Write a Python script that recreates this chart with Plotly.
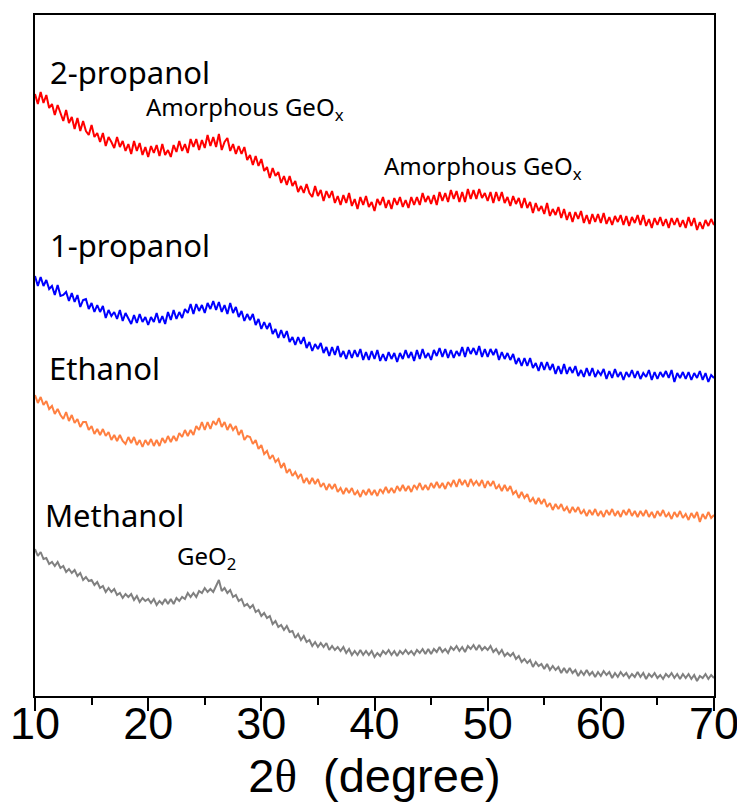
import plotly.graph_objects as go

# 2-theta sampling (degrees), 0.25 degree steps from 10 to 70
two_theta = [10 + 0.25 * i for i in range(241)]

# Intensities (arbitrary units, offset-stacked as in the figure), 4 values per degree
propanol2 = [
    602,592,604,593, 601,588,592,581, 591,582,575,586, 573,579,567,578, 565,575,565,561,
    571,559,563,554, 563,550,559,554, 548,559,549,555, 545,552,542,555, 545,553,541,549,
    539,550,543,551, 540,552,541,546, 539,551,544,555, 545,552,543,557, 549,557,546,556,
    548,561,550,559, 549,562,546,554, 558,545,552,542, 550,542,549,536, 541,531,540,530,
    537,525,529,518, 528,520,524,513, 520,511,520,510, 515,504,510,503, 512,503,499,510,
    500,506,495,505, 498,505,493,500, 491,501,493,503, 490,497,487,499, 491,500,489,494,
    485,497,491,499, 488,496,487,498, 491,499,489,496, 488,499,491,499, 491,503,494,500,
    492,501,491,504, 495,503,494,506, 497,505,494,504, 494,507,497,506, 497,507,498,503,
    495,504,493,504, 495,504,493,499, 490,500,492,498, 488,498,488,494, 483,493,485,490,
    482,493,480,487, 481,489,478,487, 476,484,474,484, 477,485,473,481, 472,482,474,482,
    473,483,472,479, 471,480,474,481, 471,480,470,479, 473,481,471,481, 470,477,468,478,
    471,479,470,477, 468,478,471,478, 469,476,468,479, 470,478,466,474, 467,476,470,477,
    471]

propanol1 = [
    420,410,419,410, 416,407,410,401, 411,400,401,404, 395,403,394,401, 389,396,397,387,
    393,384,391,384, 390,378,386,380, 384,377,386,375, 383,377,372,381, 373,382,374,379,
    371,379,374,383, 373,380,372,384, 376,386,377,384, 378,387,383,392, 382,392,385,391,
    383,393,387,395, 386,394,384,391, 382,393,383,389, 379,385,375,382, 376,382,371,377,
    367,374,367,373, 362,367,358,366, 358,365,354,359, 351,359,352,359, 348,354,345,352,
    347,353,343,349, 340,349,341,350, 339,345,337,346, 338,346,339,347, 336,344,336,345,
    337,346,335,342, 335,344,337,343, 334,343,337,346, 338,344,335,346, 337,347,338,343,
    336,346,340,348, 339,347,338,346, 338,345,340,349, 339,349,342,348, 341,350,339,347,
    339,347,341,347, 336,344,337,343, 336,342,332,338, 330,338,330,338, 328,333,325,334,
    326,334,326,332, 322,330,322,332, 322,329,323,330, 320,326,319,328, 320,328,319,325,
    321,327,317,325, 318,327,319,324, 316,324,319,326, 318,325,317,323, 319,326,316,324,
    317,324,319,325, 318,326,314,323, 318,324,317,324, 316,323,318,325, 316,323,314,321,
    318]

ethanol = [
    301,293,299,291, 295,287,290,282, 287,281,277,284, 275,281,273,277, 269,274,274,266,
    270,262,267,261, 267,260,264,256, 261,255,261,255, 252,259,253,259, 251,256,249,256,
    251,257,250,256, 250,258,253,260, 254,260,255,263, 259,266,260,266, 261,270,266,274,
    266,274,267,275, 271,278,269,274, 266,272,266,270, 261,266,256,260, 259,252,256,247,
    251,242,245,237, 241,234,237,228, 233,223,227,220, 224,218,222,213, 218,212,218,212,
    217,209,213,206, 212,207,212,204, 208,202,208,203, 208,201,205,199, 206,201,207,201,
    206,200,207,203, 209,203,208,203, 210,205,211,205, 210,204,211,207, 213,206,211,206,
    213,208,214,208, 213,207,214,210, 216,209,217,211, 216,209,217,211, 215,210,216,208,
    215,210,215,207, 211,205,211,205, 210,202,205,198, 204,198,202,194, 198,192,198,192,
    197,189,193,186, 192,187,192,185, 189,183,189,184, 189,182,186,180, 186,181,187,180,
    185,179,186,181, 187,180,185,179, 186,181,187,180, 185,179,185,180, 186,179,184,178,
    185,180,186,179, 183,177,184,179, 185,178,182,176, 183,178,184,174, 182,177,184,178,
    181]

methanol = [
    147,140,144,137, 138,132,134,130, 134,128,130,124, 127,123,126,120, 123,116,119,115,
    116,111,114,108, 110,104,108,104, 107,101,103,98, 102,99,102,96, 100,94,98,95,
    97,93,97,91, 95,92,97,92, 97,92,98,95, 99,97,103,99, 103,99,105,103,
    108,104,107,104, 110,116,105,108, 103,106,99,101, 95,97,90,92, 88,91,84,86,
    80,83,78,80, 72,75,69,71, 66,70,64,65, 58,62,56,60, 54,56,50,54,
    49,53,49,53, 46,50,46,49, 45,49,43,47, 41,45,41,46, 41,45,41,45,
    39,43,40,45, 42,46,41,45, 40,45,42,46, 42,45,41,46, 43,47,42,47,
    42,47,44,49, 44,47,43,49, 46,50,45,49, 44,50,47,51, 46,51,46,49,
    46,50,44,47, 42,46,40,43, 40,43,37,40, 34,37,33,36, 29,34,30,32,
    27,32,26,30, 26,29,23,28, 23,28,23,26, 20,25,21,26, 21,24,19,24,
    20,25,21,24, 18,23,19,24, 20,23,18,22, 19,24,19,23, 17,22,19,23,
    18,21,17,22, 19,23,18,22, 17,22,18,22, 17,21,15,20, 18,22,17,21,
    18]

series_names = ["2-propanol", "1-propanol", "Ethanol", "Methanol"]
series_values = [propanol2, propanol1, ethanol, methanol]
series_colors = ["#FF0000", "#0000FF", "#FF7F40", "#808080"]

# Sample labels: (text, x in degrees, y in intensity units)
sample_labels = [("2-propanol", 11.15, 624),
                 ("1-propanol", 11.15, 451),
                 ("Ethanol", 11.05, 328),
                 ("Methanol", 10.7, 181)]

# Phase annotations
phase_labels = [("Amorphous GeO<sub>x</sub>", 19.6, 588),
                ("Amorphous GeO<sub>x</sub>", 40.65, 529),
                ("GeO<sub>2</sub>", 22.35, 139)]

x_ticks = [10, 20, 30, 40, 50, 60, 70]

fig = go.Figure()
for name, vals, col in zip(series_names, series_values, series_colors):
    fig.add_trace(go.Scatter(x=two_theta, y=vals, mode="lines", name=name,
                             line=dict(color=col, width=2.0), showlegend=False))

for text, x, y in sample_labels:
    fig.add_annotation(x=x, y=y, text=text, showarrow=False, xanchor="left",
                       yanchor="middle", font=dict(family="Noto Sans", size=31, color="black"))
for text, x, y in phase_labels:
    fig.add_annotation(x=x, y=y, text=text, showarrow=False, xanchor="left",
                       yanchor="middle", font=dict(family="Noto Sans", size=24, color="black"))

fig.update_layout(
    width=737, height=802,
    margin=dict(l=27, r=31, t=7, b=114),
    plot_bgcolor="white", paper_bgcolor="white",
    xaxis=dict(range=[10, 70], tickvals=x_ticks, ticktext=[str(v) for v in x_ticks],
               ticks="outside", ticklen=13, tickwidth=1.5, tickcolor="black",
               minor=dict(dtick=5, tick0=10, ticks="outside", ticklen=7, tickwidth=1.5, tickcolor="black"),
               showline=True, linecolor="black", linewidth=1.5, mirror=True,
               showgrid=False, zeroline=False, ticklabelstandoff=-26, automargin=False,
               tickfont=dict(family="Liberation Sans", size=45, color="black"),
               title=dict(text="2<span style=\"font-family:'Liberation Serif'\">θ</span>  (degree)",
                          font=dict(family="Liberation Sans", size=47, color="black"), standoff=6)),
    yaxis=dict(range=[0, 681], showticklabels=False, ticks="", showgrid=False, zeroline=False,
               automargin=False,
               showline=True, linecolor="black", linewidth=1.5, mirror=True),
)

fig.write_html("out.html")
